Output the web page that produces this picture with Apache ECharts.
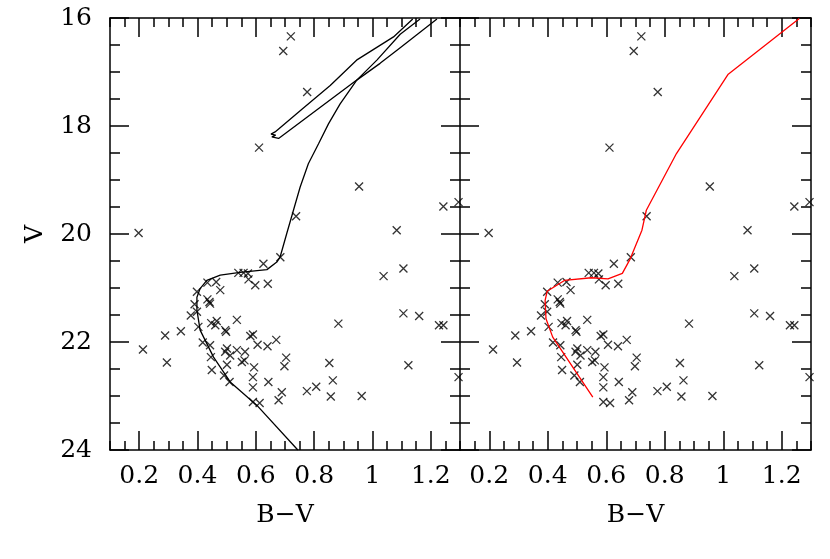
<!DOCTYPE html>
<html>
<head>
<meta charset="utf-8">
<script src="https://cdn.jsdelivr.net/npm/echarts@6/dist/echarts.min.js"></script>
<style>
  html, body { margin: 0; padding: 0; background: #fff; }
  #chart { width: 830px; height: 559px; }
</style>
</head>
<body>
<div id="chart"></div>
<script>
// tick labels
const bvTicks = [0.2, 0.4, 0.6, 0.8, 1, 1.2]
const bvRange = [0.1, 1.3]
const vRange = [16, 24]

// observed stars [B-V, V]
const stars = [
  [0.72, 16.34], [0.694, 16.61], [0.776, 17.37], [0.611, 18.40], [0.954, 19.12],
  [1.243, 19.49], [1.295, 19.41], [0.738, 19.67], [0.198, 19.98], [1.083, 19.93],
  [0.626, 20.55], [0.684, 20.43], [1.038, 20.78], [1.106, 20.64],
  [0.540, 20.72], [0.558, 20.72], [0.573, 20.73], [0.575, 20.84], [0.598, 20.95], [0.641, 20.92],
  [0.434, 20.90], [0.464, 20.89], [0.478, 21.04], [0.398, 21.07],
  [0.434, 21.21], [0.441, 21.26], [0.443, 21.29], [0.390, 21.30], [0.398, 21.44], [0.377, 21.51],
  [0.535, 21.59], [0.447, 21.65], [0.466, 21.61], [0.461, 21.69], [0.495, 21.78], [0.498, 21.81],
  [0.403, 21.72], [0.343, 21.80], [0.289, 21.88],
  [0.581, 21.89], [0.590, 21.86], [0.606, 22.05], [0.640, 22.08], [0.670, 21.96],
  [0.418, 22.01], [0.443, 22.06], [0.501, 22.12], [0.495, 22.18], [0.512, 22.25], [0.535, 22.15],
  [0.563, 22.18], [0.552, 22.37], [0.561, 22.34],
  [0.446, 22.28], [0.501, 22.42], [0.449, 22.52], [0.491, 22.62], [0.510, 22.74],
  [0.594, 22.47], [0.590, 22.65], [0.590, 22.84], [0.643, 22.74], [0.704, 22.29], [0.698, 22.45],
  [0.689, 22.93], [0.678, 23.08], [0.590, 23.11], [0.613, 23.13],
  [0.775, 22.91], [0.807, 22.83], [0.852, 22.39], [0.864, 22.71], [0.857, 23.01], [0.963, 23.00],
  [0.213, 22.14], [0.295, 22.38], [0.883, 21.66], [1.106, 21.47], [1.160, 21.52],
  [1.228, 21.69], [1.243, 21.69], [1.123, 22.43], [1.295, 22.65]
]

// isochrone: main sequence + giant branch
const isoMain = [
  [0.744, 24.0], [0.603, 23.17], [0.512, 22.74], [0.455, 22.28], [0.409, 21.78],
  [0.398, 21.41], [0.398, 21.17], [0.409, 21.01], [0.432, 20.86], [0.478, 20.76],
  [0.546, 20.71], [0.638, 20.66], [0.672, 20.52], [0.683, 20.43], [0.706, 19.99],
  [0.729, 19.56], [0.752, 19.13], [0.780, 18.70], [0.815, 18.33], [0.849, 17.96],
  [0.889, 17.59], [0.946, 17.15], [1.015, 16.78], [1.095, 16.30], [1.163, 16.02]
]
// isochrone: horizontal branch / AGB loop
const isoLoop = [
  [1.221, 16.02], [1.095, 16.55], [1.026, 16.84], [0.946, 17.15], [0.678, 18.23],
  [0.655, 18.20], [0.668, 18.17], [0.652, 18.15], [0.666, 18.11], [0.754, 17.71],
  [0.855, 17.25], [0.948, 16.77], [1.072, 16.35], [1.138, 16.02]
]
// fiducial ridge line
const ridge = [
  [1.260, 16.01], [1.017, 17.04], [0.840, 18.51], [0.737, 19.56], [0.722, 19.93],
  [0.682, 20.46], [0.655, 20.73], [0.606, 20.83], [0.549, 20.81], [0.457, 20.86],
  [0.398, 21.06], [0.391, 21.23], [0.394, 21.57], [0.417, 21.91], [0.554, 23.02]
]

const font = 'DejaVu Serif'
const ink = '#000'
const frame = { color: ink, width: 1.5 }

let mycharts = echarts.init(document.getElementById('chart'), null, { renderer: 'canvas' })

//每个面板四根x轴（上下各一根长刻度、一根短刻度）
function xAxes(g) {
  let list = []
  ;['bottom', 'top'].forEach(function (pos) {
    //短刻度
    list.push({
      gridIndex: g, type: 'value', position: pos,
      min: bvRange[0], max: bvRange[1], interval: 0.05,
      axisLine: { show: true, lineStyle: frame },
      axisTick: { show: true, inside: true, length: 9, lineStyle: frame },
      axisLabel: { show: false },
      splitLine: { show: false }
    })
    //长刻度 + 标签
    list.push({
      gridIndex: g, type: 'value', position: pos,
      min: bvRange[0], max: bvRange[1],
      axisLine: { show: false },
      axisTick: { show: true, inside: true, length: 19, lineStyle: frame, customValues: bvTicks },
      axisLabel: {
        show: pos === 'bottom', customValues: bvTicks, margin: 14,
        fontFamily: font, fontSize: 25, color: ink
      },
      splitLine: { show: false },
      name: pos === 'bottom' ? 'B\u2212V' : '',
      nameLocation: 'middle', nameGap: 53,
      nameTextStyle: { fontFamily: font, fontSize: 25, color: ink }
    })
  })
  return list
}

function yAxes(g) {
  return ['left', 'right'].map(function (pos) {
    let showLabel = g === 0 && pos === 'left'
    //右面板左侧与左面板右侧共用一条边框
    let showLine = !(g === 1 && pos === 'left')
    return {
      gridIndex: g, type: 'value', position: pos, inverse: true,
      min: vRange[0], max: vRange[1], interval: 2,
      axisLine: { show: showLine, lineStyle: frame },
      axisTick: { show: true, inside: true, length: 19, lineStyle: frame },
      minorTick: { show: true, splitNumber: 4, length: 10, lineStyle: frame },
      axisLabel: { show: showLabel, margin: 18, fontFamily: font, fontSize: 25, color: ink },
      splitLine: { show: false },
      minorSplitLine: { show: false },
      name: showLabel ? 'V' : '',
      nameLocation: 'middle', nameGap: 62, nameRotate: 90,
      nameTextStyle: { fontFamily: font, fontSize: 25, color: ink }
    }
  })
}

function starSeries(xi, yi) {
  return {
    type: 'scatter', xAxisIndex: xi, yAxisIndex: yi, data: stars,
    symbol: 'path://M0,0L10,10M0,10L10,0', symbolSize: 8,
    itemStyle: { color: 'rgba(0,0,0,0)', borderColor: ink, borderWidth: 1.3 },
    z: 3
  }
}

function lineSeries(xi, yi, data, color) {
  return {
    type: 'line', xAxisIndex: xi, yAxisIndex: yi, data: data,
    showSymbol: false, symbol: 'none', clip: true,
    lineStyle: { color: color, width: 1.3 }, z: 4
  }
}

mycharts.setOption({
  animation: false,
  backgroundColor: '#fff',
  grid: [
    { left: 110, top: 18, width: 350, height: 432 },
    { left: 460, top: 18, width: 351, height: 432 }
  ],
  xAxis: xAxes(0).concat(xAxes(1)),
  yAxis: yAxes(0).concat(yAxes(1)),
  series: [
    starSeries(0, 0),
    lineSeries(0, 0, isoMain, ink),
    lineSeries(0, 0, isoLoop, ink),
    starSeries(4, 2),
    lineSeries(4, 2, ridge, '#ff0000')
  ]
})
</script>
</body>
</html>
